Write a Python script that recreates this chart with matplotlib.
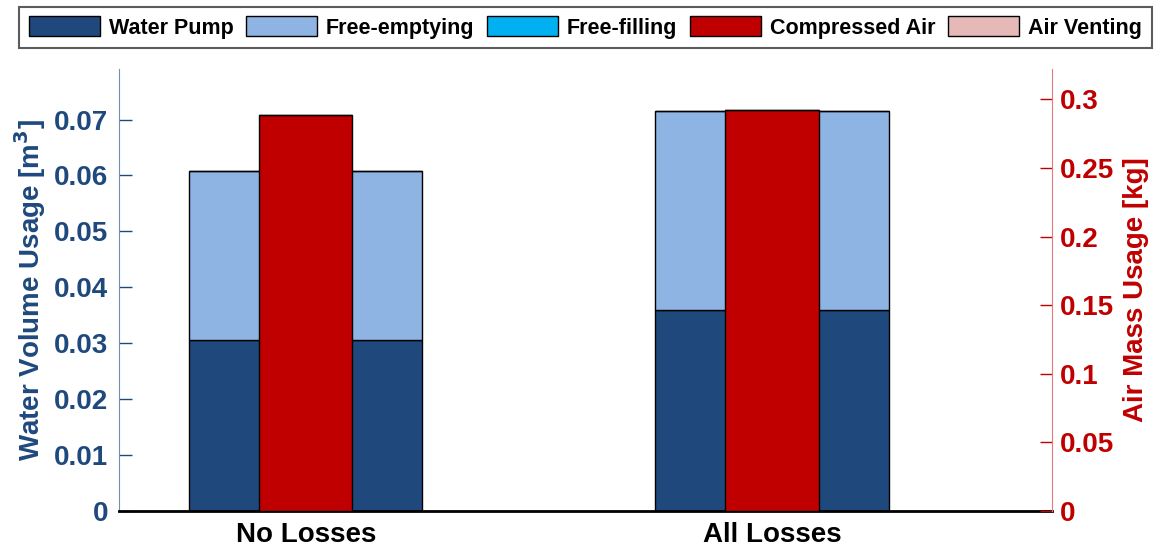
import numpy as np
import matplotlib.pyplot as plt
from matplotlib.patches import Patch

plt.rcParams['font.family'] = ['Liberation Sans', 'DejaVu Sans']
plt.rcParams['font.weight'] = 'bold'

# scenarios on the x axis
scenarios = ['No Losses', 'All Losses']

# water use per scenario [m^3]
water_pump = [0.0305, 0.0360]
free_emptying = [0.0303, 0.0356]
free_filling = [0.0, 0.0]

# air use per scenario [kg]
compressed_air = [0.289, 0.292]
air_venting = [0.0, 0.0]

c_pump = '#1f497d'
c_empty = '#8eb4e3'
c_fill = '#00b0f0'
c_air = '#c00000'
c_vent = '#e6b9b8'

x = np.arange(1, len(scenarios) + 1)

fig = plt.figure(figsize=(11.56, 5.48), dpi=100)
ax = fig.add_axes([0.1032, 0.0681, 0.8066, 0.8054])
ax2 = ax.twinx()

# water bars (stacked, left axis)
wp = np.array(water_pump)
fe = np.array(free_emptying)
ff = np.array(free_filling)
ax.bar(x, wp, width=0.5, color=c_pump, edgecolor='black', linewidth=1)
ax.bar(x, fe, width=0.5, bottom=wp, color=c_empty, edgecolor='black', linewidth=1)
ax.bar(x, ff, width=0.5, bottom=wp + fe, color=c_fill, edgecolor='black', linewidth=1)

# air bars (stacked, right axis)
ca = np.array(compressed_air)
av = np.array(air_venting)
ax2.bar(x, ca, width=0.2, color=c_air, edgecolor='black', linewidth=1)
ax2.bar(x, av, width=0.2, bottom=ca, color=c_vent, edgecolor='black', linewidth=1)

ax.set_xlim(0.6, 2.6)
ax.set_ylim(0, 0.079)
ax2.set_ylim(0, 0.322)

ax.set_xticks(x)
ax.set_xticklabels(scenarios, fontsize=20, fontweight='bold')
ax.tick_params(axis='x', length=0, pad=8)

ax.set_yticks(np.arange(0, 0.0701, 0.01))
ax.set_yticklabels(['0'] + ['%.2f' % v for v in np.arange(0.01, 0.0701, 0.01)])
ax.tick_params(axis='y', direction='in', length=9, width=1, colors=c_pump,
               labelsize=20, pad=8)
ax2.set_yticks([0, 0.05, 0.1, 0.15, 0.2, 0.25, 0.3])
ax2.set_yticklabels(['0', '0.05', '0.1', '0.15', '0.2', '0.25', '0.3'])
ax2.tick_params(axis='y', direction='in', length=9, width=1, colors=c_air,
                labelsize=20, pad=6)
for t in ax.get_yticklabels() + ax2.get_yticklabels():
    t.set_fontweight('bold')

ax.set_ylabel('Water Volume Usage [m$^\\mathbf{3}$]', fontsize=20,
              fontweight='bold', color=c_pump, labelpad=4)
ax2.set_ylabel('Air Mass Usage [kg]', fontsize=20, fontweight='bold',
               color=c_air, labelpad=6)

for a in (ax, ax2):
    a.spines['top'].set_visible(False)
ax.spines['right'].set_visible(False)
ax2.spines['bottom'].set_visible(False)
ax.spines['left'].set_color('#6f8fb3')
ax2.spines['left'].set_visible(False)
ax2.spines['right'].set_color('#e07a7a')
ax.spines['bottom'].set_linewidth(2)
ax.spines['bottom'].set_color('black')

handles = [Patch(facecolor=c, edgecolor='black', linewidth=1)
           for c in (c_pump, c_empty, c_fill, c_air, c_vent)]
labels = ['Water Pump', 'Free-emptying', 'Free-filling', 'Compressed Air', 'Air Venting']
leg = fig.legend(handles, labels, loc='upper center', bbox_to_anchor=(0.5065, 0.988),
                 ncol=5, fontsize=15.5, frameon=True, fancybox=False,
                 handlelength=3.3, handleheight=1.05, handletextpad=0.4, columnspacing=0.6,
                 borderaxespad=0, borderpad=0.45)
leg.get_frame().set_edgecolor('#333333')
leg.get_frame().set_linewidth(1.5)
for t in leg.get_texts():
    t.set_fontweight('bold')

fig.savefig('out.png', dpi=100)
